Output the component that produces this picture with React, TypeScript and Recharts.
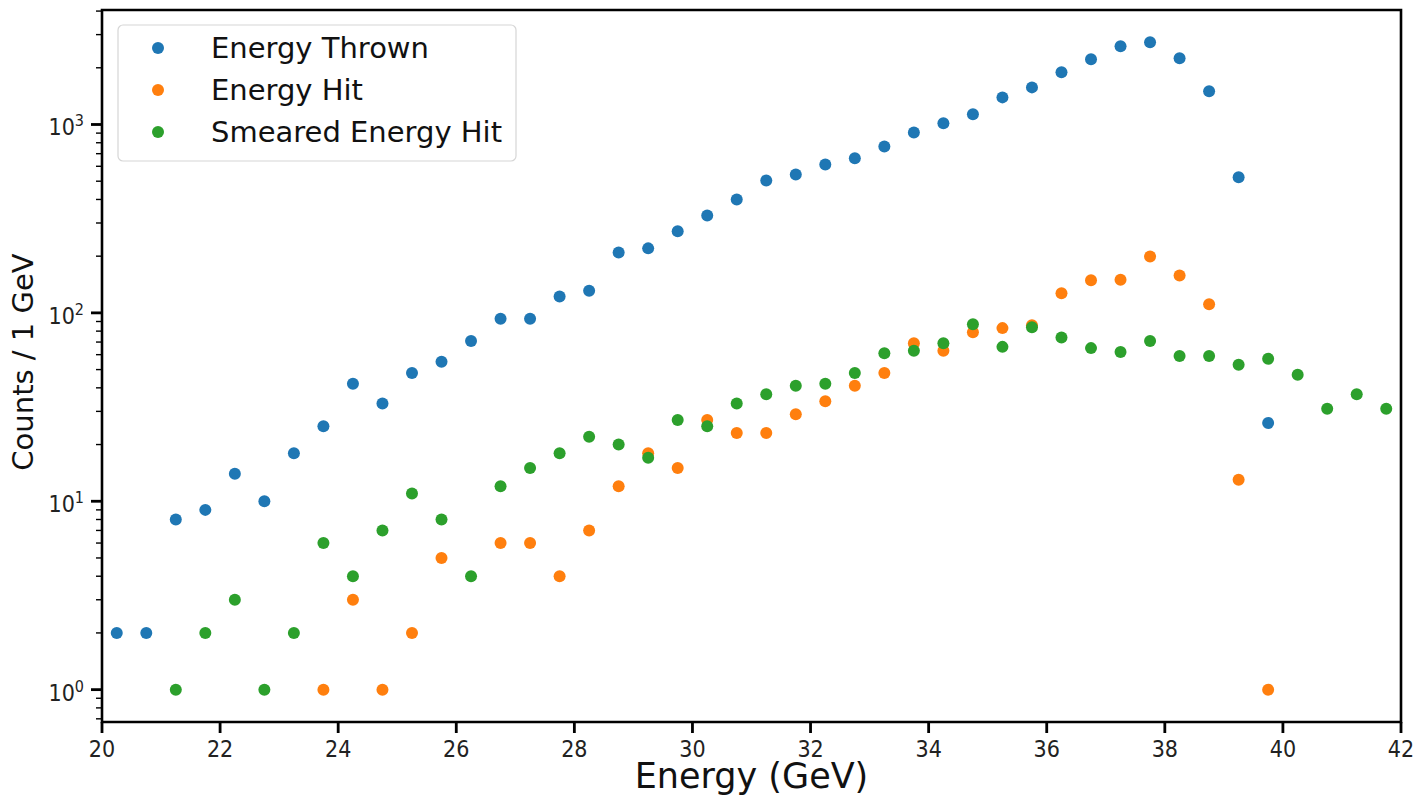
import React from "react";
import {
  ScatterChart,
  Scatter,
  XAxis,
  YAxis,
  Legend,
  Label,
  ReferenceArea,
} from "recharts";

document.body.style.margin = "0";

// bin centres (GeV)
const energy = [
  20.25, 20.75, 21.25, 21.75, 22.25, 22.75, 23.25, 23.75, 24.25, 24.75, 25.25,
  25.75, 26.25, 26.75, 27.25, 27.75, 28.25, 28.75, 29.25, 29.75, 30.25, 30.75,
  31.25, 31.75, 32.25, 32.75, 33.25, 33.75, 34.25, 34.75, 35.25, 35.75, 36.25,
  36.75, 37.25, 37.75, 38.25, 38.75, 39.25, 39.75, 40.25, 40.75, 41.25, 41.75,
];

const thrown = [
  2, 2, 8, 9, 14, 10, 18, 25, 42, 33, 48, 55, 71, 93, 93, 122, 131, 209, 220,
  271, 329, 400, 505, 543, 614, 661, 765, 908, 1014, 1132, 1393, 1574, 1892,
  2218, 2600, 2730, 2244, 1500, 524, 26, null, null, null, null,
];

const hit = [
  null, null, null, null, null, null, null, 1, 3, 1, 2, 5, null, 6, 6, 4, 7, 12,
  18, 15, 27, 23, 23, 29, 34, 41, 48, 69, 63, 79, 83, 86, 127, 149, 150, 199,
  158, 111, 13, 1, null, null, null, null,
];

const smeared = [
  null, null, 1, 2, 3, 1, 2, 6, 4, 7, 11, 8, 4, 12, 15, 18, 22, 20, 17, 27, 25,
  33, 37, 41, 42, 48, 61, 63, 69, 87, 66, 84, 74, 65, 62, 71, 59, 59, 53, 57,
  47, 31, 37, 31,
];

const xTicks = [20, 22, 24, 26, 28, 30, 32, 34, 36, 38, 40, 42];
const yMajor = [1, 10, 100, 1000];
const yTicks = [
  0.7, 0.8, 0.9, 1, 2, 3, 4, 5, 6, 7, 8, 9, 10, 20, 30, 40, 50, 60, 70, 80, 90,
  100, 200, 300, 400, 500, 600, 700, 800, 900, 1000, 2000, 3000, 4000,
];
const yDomain = [0.6733, 4053];

const series = [
  { name: "Energy Thrown", values: thrown, color: "#1f77b4" },
  { name: "Energy Hit", values: hit, color: "#ff7f0e" },
  { name: "Smeared Energy Hit", values: smeared, color: "#2ca02c" },
];

const FONT = "DejaVu Sans";
const TICK = 9;

const toPoints = (values: (number | null)[]) =>
  energy
    .map((x, i) => ({ x, y: values[i] }))
    .filter((p) => p.y != null);

function XTick({ x, y, payload }: any) {
  const axisY = y - TICK;
  return (
    <g>
      <rect x={x - 1.4} y={axisY} width={2.8} height={11} fill="#000" />
      <text
        x={x}
        y={axisY + 35}
        textAnchor="middle"
        fontSize={23}
        fontFamily={FONT}
        style={{ fontStretch: "condensed" }}
        fill="#222"
      >
        {payload.value}
      </text>
    </g>
  );
}

function YTick({ x, y, payload }: any) {
  const axisX = x + TICK;
  const v = payload.value;
  const major = yMajor.includes(v);
  const exp = Math.round(Math.log10(v));
  const len = major ? 11 : 6;
  const w = major ? 2.8 : 1.4;
  return (
    <g>
      <rect x={axisX - len} y={y - w / 2} width={len} height={w} fill="#000" />
      {major && (
        <text
          x={axisX - 18}
          y={y + 11}
          textAnchor="end"
          fontSize={23}
          fontFamily={FONT}
          style={{ fontStretch: "condensed" }}
          fill="#222"
        >
          10
          <tspan dy={-9} fontSize={16}>
            {exp}
          </tspan>
        </text>
      )}
    </g>
  );
}

function LegendBox() {
  return (
    <svg width={400} height={138}>
      <rect x={1} y={1} width={398} height={136} rx={5} fill="#fff" fillOpacity={0.8} stroke="#d6d6d6" strokeWidth={1.2} />
      {series.map((s, i) => (
        <g key={s.name}>
          <circle cx={41} cy={24 + 42 * i} r={6} fill={s.color} />
          <text x={94} y={34 + 42 * i} fontSize={29} fontFamily={FONT} fill="#111">
            {s.name}
          </text>
        </g>
      ))}
    </svg>
  );
}

export default function App() {
  return (
    <ScatterChart
      width={1420}
      height={796}
      margin={{ top: 10, right: 19, left: 0, bottom: 0 }}
      style={{ background: "#fff" }}
    >
      <XAxis
        type="number"
        dataKey="x"
        domain={[20, 42]}
        ticks={xTicks}
        interval={0}
        allowDataOverflow
        height={74}
        tickSize={TICK}
        tickMargin={0}
        tickLine={false}
        axisLine={false}
        tick={<XTick />}
      >
        <Label
          value="Energy (GeV)"
          position="insideBottom"
          offset={8}
          fontSize={35}
          fontFamily={FONT}
          fill="#111"
        />
      </XAxis>
      <YAxis
        type="number"
        dataKey="y"
        scale="log"
        domain={yDomain}
        ticks={yTicks}
        interval={0}
        allowDataOverflow
        width={102}
        tickSize={TICK}
        tickMargin={0}
        tickLine={false}
        axisLine={false}
        tick={<YTick />}
      >
        <Label
          content={({ viewBox }: any) => {
            const cx = viewBox.x + 33;
            const cy = viewBox.y + viewBox.height / 2 - 4;
            return (
              <text
                x={cx}
                y={cy}
                textAnchor="middle"
                fontSize={29}
                fontFamily={FONT}
                fill="#111"
                transform={`rotate(-90 ${cx} ${cy})`}
              >
                Counts / 1 GeV
              </text>
            );
          }}
        />
      </YAxis>
      <ReferenceArea
        x1={20}
        x2={42}
        y1={yDomain[0]}
        y2={yDomain[1]}
        fill="none"
        stroke="#000"
        strokeWidth={2.6}
        ifOverflow="visible"
      />
      {series.map((s) => (
        <Scatter
          key={s.name}
          name={s.name}
          data={toPoints(s.values)}
          fill={s.color}
          isAnimationActive={false}
          shape={(p: any) => <circle cx={p.cx} cy={p.cy} r={6} fill={s.color} />}
        />
      ))}
      <Legend
        layout="horizontal"
        verticalAlign="middle"
        align="center"
        content={() => <LegendBox />}
        wrapperStyle={{ left: 117, top: 24, width: 400, height: 138 }}
      />
    </ScatterChart>
  );
}
